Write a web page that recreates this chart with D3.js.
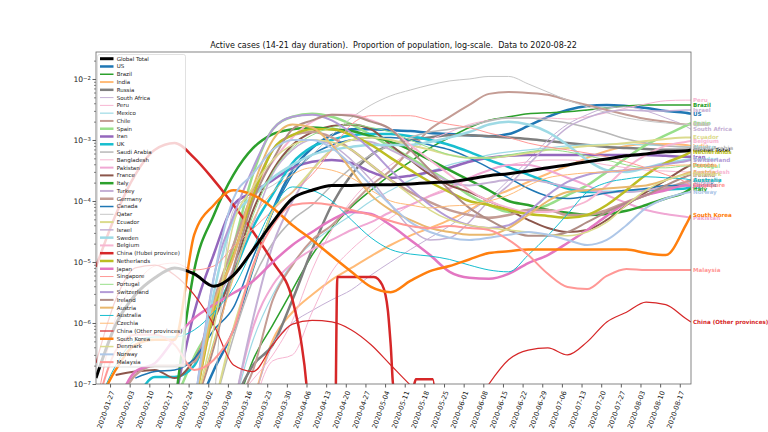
<!DOCTYPE html>
<html>
<head>
<meta charset="utf-8">
<script src="https://cdn.jsdelivr.net/npm/d3@7/dist/d3.min.js"></script>
<style>
  body { margin: 0; background: #fff; }
  svg text { font-family: "DejaVu Sans", sans-serif; }
</style>
</head>
<body>
<div id="chartContainer"></div>
<script>
// Weekly samples: share of population with an active case.
// Each series is right-aligned to `weeks` (its last value is 2020-08-21).
var weeks = ["2020-01-22","2020-01-29","2020-02-05","2020-02-12","2020-02-19","2020-02-26",
  "2020-03-04","2020-03-11","2020-03-18","2020-03-25","2020-04-01","2020-04-08","2020-04-15",
  "2020-04-22","2020-04-29","2020-05-06","2020-05-13","2020-05-20","2020-05-27","2020-06-03",
  "2020-06-10","2020-06-17","2020-06-24","2020-07-01","2020-07-08","2020-07-15","2020-07-22",
  "2020-07-29","2020-08-05","2020-08-12","2020-08-19","2020-08-21"];

var globalTotal = [1.25e-7,9.3e-7,2.9e-6,5.5e-6,8.0e-6,6.4e-6,4.0e-6,6.1e-6,1.6e-5,4.5e-5,1.1e-4,1.5e-4,1.8e-4,1.8e-4,1.85e-4,1.85e-4,1.9e-4,2.0e-4,2.05e-4,2.3e-4,2.6e-4,2.8e-4,3.1e-4,3.5e-4,3.9e-4,4.4e-4,4.9e-4,5.5e-4,5.9e-4,6.4e-4,6.6e-4,6.9e-4];
var us = [3e-8,1.7e-7,7.7e-7,8.0e-6,7.1e-5,3.2e-4,7.4e-4,1.2e-3,1.5e-3,1.5e-3,1.45e-3,1.4e-3,1.3e-3,1.25e-3,1.2e-3,1.15e-3,1.25e-3,1.7e-3,2.4e-3,3.1e-3,3.6e-3,3.75e-3,3.6e-3,3.35e-3,3.0e-3,2.8e-3,2.7e-3];
var brazil = [3e-8,2.5e-7,9.3e-7,3.5e-6,1.3e-5,3.6e-5,8.0e-5,1.5e-4,2.7e-4,4.4e-4,7.4e-4,1.1e-3,1.6e-3,2.1e-3,2.4e-3,2.7e-3,2.8e-3,2.9e-3,3.1e-3,3.35e-3,3.6e-3,3.75e-3,3.75e-3,3.75e-3,3.75e-3];
var india = [5e-8,5.3e-7,1.5e-6,2.9e-6,5.1e-6,8.0e-6,1.25e-5,1.9e-5,2.7e-5,3.6e-5,4.9e-5,7.1e-5,1.1e-4,1.5e-4,2.05e-4,2.8e-4,3.75e-4,5.1e-4,6.6e-4,8.0e-4,8.6e-4,8.6e-4,8.3e-4,8.0e-4];
var russia = [5e-8,2.05e-7,4.4e-7,2.4e-6,1.6e-5,8.6e-5,2.7e-4,5.7e-4,8.3e-4,1.0e-3,1.1e-3,1.2e-3,1.2e-3,1.15e-3,1.1e-3,1.04e-3,9.6e-4,8.9e-4,8.3e-4,7.7e-4,7.4e-4,7.1e-4,6.9e-4,6.9e-4,6.9e-4];
var southAfrica = [5e-8,4.4e-7,1.0e-6,1.6e-6,2.4e-6,3.5e-6,6.1e-6,1.0e-5,1.6e-5,2.5e-5,3.9e-5,6.6e-5,1.1e-4,2.2e-4,4.7e-4,1.0e-3,1.8e-3,2.6e-3,3.35e-3,3.5e-3,3.0e-3,2.3e-3,1.7e-3,1.5e-3];
var peru = [5e-8,1.2e-7,3.0e-7,1.1e-6,7.4e-6,3.35e-5,1.0e-4,2.2e-4,3.9e-4,6.4e-4,1.0e-3,1.35e-3,1.8e-3,2.1e-3,2.3e-3,2.3e-3,2.3e-3,2.2e-3,2.4e-3,2.8e-3,3.35e-3,3.9e-3,4.4e-3,4.5e-3,4.5e-3];
var mexico = [4e-8,5.3e-7,2.9e-6,9.6e-6,2.05e-5,3.6e-5,5.9e-5,1.0e-4,1.5e-4,2.2e-4,3.0e-4,3.9e-4,4.7e-4,5.7e-4,6.4e-4,6.9e-4,7.4e-4,8.0e-4,8.3e-4,8.6e-4,8.6e-4,8.3e-4,8.0e-4,7.7e-4,7.7e-4];
var chile = [4e-8,1.7e-7,2.4e-6,8.9e-6,2.3e-5,4.0e-5,8.6e-5,1.8e-4,3.2e-4,6.9e-4,1.5e-3,2.4e-3,3.75e-3,5.7e-3,6.1e-3,5.9e-3,5.5e-3,4.5e-3,3.75e-3,3.1e-3,2.6e-3,2.2e-3,2.0e-3,1.8e-3,1.8e-3];
var spain = [5e-8,2.8e-7,1.2e-6,1.8e-5,2.8e-4,1.5e-3,2.4e-3,2.7e-3,2.4e-3,1.8e-3,1.2e-3,7.7e-4,5.1e-4,3.2e-4,2.05e-4,1.25e-4,8.6e-5,6.6e-5,7.1e-5,8.6e-5,1.25e-4,1.8e-4,3.0e-4,5.1e-4,8.3e-4,1.2e-3,1.7e-3,1.9e-3];
var iran = [5e-8,1.5e-6,1.35e-5,8.6e-5,1.4e-4,2.2e-4,3.5e-4,4.4e-4,4.7e-4,4.2e-4,3.0e-4,2.4e-4,2.6e-4,3.0e-4,3.5e-4,4.4e-4,5.1e-4,5.5e-4,5.7e-4,5.7e-4,5.7e-4,5.7e-4,5.7e-4,5.7e-4,5.7e-4,5.5e-4,5.3e-4,5.3e-4];
var uk = [5e-8,1.3e-7,1.3e-7,2.0e-7,1.3e-6,6.6e-6,3.75e-5,1.3e-4,4.2e-4,7.7e-4,1.0e-3,1.2e-3,1.25e-3,1.25e-3,1.15e-3,1.0e-3,8.3e-4,6.4e-4,4.7e-4,3.6e-4,2.7e-4,2.05e-4,1.6e-4,1.4e-4,1.4e-4,1.45e-4,1.5e-4,1.55e-4,1.6e-4,1.7e-4];
var saudiArabia = [4e-8,5.9e-7,5.1e-6,2.05e-5,4.9e-5,8.6e-5,1.8e-4,3.5e-4,5.7e-4,8.3e-4,1.1e-3,1.35e-3,1.5e-3,1.7e-3,2.05e-3,2.3e-3,2.3e-3,2.1e-3,1.9e-3,1.6e-3,1.3e-3,1.04e-3,8.9e-4,8.0e-4,7.7e-4,7.4e-4];
var bangladesh = [4e-8,2.4e-7,3.0e-7,1.5e-6,6.9e-6,1.6e-5,3.0e-5,5.3e-5,8.6e-5,1.25e-4,1.7e-4,2.4e-4,3.2e-4,3.9e-4,4.4e-4,4.7e-4,4.7e-4,4.4e-4,3.9e-4,3.5e-4,3.2e-4,3.1e-4,3.0e-4,3.0e-4];
var pakistan = [4e-8,8.6e-7,4.2e-6,9.6e-6,1.6e-5,2.3e-5,3.35e-5,4.5e-5,6.6e-5,8.6e-5,1.2e-4,1.6e-4,2.4e-4,3.2e-4,3.9e-4,3.9e-4,3.2e-4,2.4e-4,1.8e-4,1.25e-4,9.3e-5,7.1e-5,6.1e-5,5.5e-5,5.3e-5];
var france = [1.4e-7,1.6e-7,1.7e-7,1.25e-7,2.5e-7,1.1e-6,7.4e-6,7.1e-5,3.2e-4,8.3e-4,1.35e-3,1.7e-3,1.8e-3,1.5e-3,8.3e-4,4.7e-4,2.7e-4,1.8e-4,1.4e-4,1.0e-4,7.1e-5,4.9e-5,3.6e-5,3.1e-5,3.35e-5,4.9e-5,8.6e-5,1.4e-4,2.2e-4,3.5e-4,3.9e-4];
var italy = [4e-8,7.4e-6,5.9e-5,2.7e-4,7.4e-4,1.25e-3,1.5e-3,1.6e-3,1.5e-3,1.4e-3,1.15e-3,9.3e-4,6.9e-4,4.7e-4,3.2e-4,2.2e-4,1.5e-4,1.0e-4,8.6e-5,7.1e-5,6.4e-5,5.9e-5,6.1e-5,6.9e-5,8.6e-5,1.1e-4,1.4e-4,1.6e-4];
var turkey = [4e-8,1.2e-6,1.9e-5,1.0e-4,3.2e-4,6.9e-4,1.0e-3,9.3e-4,6.9e-4,4.7e-4,3.0e-4,2.05e-4,1.8e-4,2.0e-4,2.2e-4,2.2e-4,2.0e-4,1.7e-4,1.5e-4,1.4e-4,1.4e-4,1.5e-4,1.7e-4,1.9e-4,2.0e-4];
var germany = [4e-8,1.4e-7,2.0e-7,2.0e-7,2.3e-7,2.4e-6,1.9e-5,1.4e-4,6.9e-4,1.2e-3,1.35e-3,1.1e-3,6.9e-4,3.9e-4,2.2e-4,1.4e-4,9.6e-5,7.1e-5,5.9e-5,5.3e-5,5.9e-5,7.1e-5,7.1e-5,5.9e-5,5.9e-5,7.1e-5,9.6e-5,1.25e-4,1.6e-4,2.05e-4,2.2e-4];
var canada = [1.25e-7,1.6e-7,1.7e-7,2.6e-7,7.7e-7,1.8e-6,1.2e-5,6.6e-5,2.7e-4,5.7e-4,8.3e-4,1.0e-3,1.1e-3,1.1e-3,1.0e-3,8.3e-4,6.9e-4,5.1e-4,3.5e-4,2.4e-4,1.6e-4,1.2e-4,1.1e-4,1.2e-4,1.35e-4,1.5e-4,1.6e-4,1.8e-4,1.8e-4,1.8e-4];
var qatar = [4e-8,7.1e-5,1.25e-4,1.8e-4,3.2e-4,5.7e-4,1.2e-3,2.3e-3,3.75e-3,5.3e-3,6.6e-3,8.0e-3,9.3e-3,1.0e-2,1.1e-2,1.1e-2,8.3e-3,6.1e-3,4.5e-3,3.5e-3,2.8e-3,2.3e-3,2.05e-3,1.9e-3,1.8e-3,1.8e-3];
var ecuador = [4e-8,8.3e-7,8.3e-6,6.9e-5,1.4e-4,3.2e-4,6.9e-4,1.0e-3,1.1e-3,1.0e-3,8.3e-4,6.9e-4,5.7e-4,5.1e-4,5.1e-4,5.5e-4,6.1e-4,6.9e-4,7.4e-4,8.0e-4,8.3e-4,8.9e-4,9.6e-4,1.04e-3,1.1e-3,1.1e-3];
var israel = [4e-8,1.5e-6,8.0e-6,4.4e-5,2.8e-4,6.9e-4,1.0e-3,8.3e-4,4.7e-4,2.2e-4,8.6e-5,3.6e-5,2.3e-5,2.5e-5,4.5e-5,1.0e-4,1.8e-4,3.9e-4,8.3e-4,1.6e-3,2.3e-3,2.9e-3,3.1e-3,3.0e-3,3.0e-3,3.1e-3,3.1e-3];
var sweden = [4e-8,3.1e-6,5.1e-5,1.2e-4,2.4e-4,3.9e-4,5.7e-4,6.9e-4,7.7e-4,8.3e-4,8.3e-4,8.3e-4,9.3e-4,1.1e-3,1.35e-3,1.8e-3,2.0e-3,1.8e-3,1.35e-3,8.3e-4,4.7e-4,3.2e-4,3.0e-4,3.5e-4,4.2e-4,4.7e-4,4.9e-4];
var belgium = [4e-8,1.5e-6,1.2e-5,1.3e-4,4.4e-4,1.1e-3,2.0e-3,2.6e-3,2.6e-3,2.1e-3,1.5e-3,8.3e-4,4.7e-4,2.7e-4,1.5e-4,1.0e-4,7.7e-5,6.6e-5,6.6e-5,7.7e-5,1.0e-4,1.8e-4,3.5e-4,5.7e-4,8.0e-4,9.3e-4,9.6e-4];
var netherlands = [4e-8,1.6e-6,1.3e-5,1.2e-4,6.9e-4,1.2e-3,1.5e-3,1.5e-3,1.2e-3,8.3e-4,5.1e-4,3.2e-4,2.05e-4,1.4e-4,1.0e-4,8.6e-5,7.1e-5,6.1e-5,5.7e-5,5.3e-5,5.9e-5,8.6e-5,1.5e-4,2.7e-4,4.2e-4,5.7e-4,6.4e-4];
var japan = [4e-8,1.6e-7,2.2e-7,5.5e-7,1.2e-6,2.0e-6,3.1e-6,4.9e-6,1.0e-5,1.9e-5,3.1e-5,4.9e-5,6.6e-5,6.1e-5,4.0e-5,2.3e-5,1.3e-5,6.9e-6,5.5e-6,5.3e-6,6.4e-6,9.6e-6,1.3e-5,2.05e-5,3.35e-5,5.7e-5,9.3e-5,1.25e-4,1.5e-4,1.8e-4,1.8e-4];
var singapore = [4e-8,1.2e-6,4.2e-6,8.6e-6,9.6e-6,7.4e-6,8.6e-6,1.8e-5,3.5e-5,7.1e-5,1.4e-4,2.7e-4,6.9e-4,1.8e-3,2.5e-3,2.5e-3,2.5e-3,2.1e-3,1.8e-3,1.6e-3,1.3e-3,1.1e-3,8.9e-4,7.7e-4,6.9e-4,6.1e-4,5.3e-4,4.4e-4,3.5e-4,2.7e-4,2.05e-4,1.8e-4];
var portugal = [4e-8,5.1e-7,5.9e-6,5.9e-5,3.0e-4,7.4e-4,1.2e-3,1.6e-3,1.8e-3,1.6e-3,1.35e-3,1.0e-3,7.4e-4,5.7e-4,5.1e-4,5.1e-4,5.7e-4,6.4e-4,6.9e-4,6.4e-4,5.5e-4,4.7e-4,3.9e-4,3.5e-4,3.5e-4,3.75e-4,3.75e-4];
var switzerland = [4e-8,5.7e-6,5.7e-5,3.5e-4,1.5e-3,2.4e-3,2.6e-3,2.1e-3,1.3e-3,6.9e-4,3.2e-4,1.6e-4,8.6e-5,5.3e-5,4.0e-5,3.6e-5,4.0e-5,6.6e-5,1.25e-4,2.05e-4,2.7e-4,3.0e-4,3.2e-4,3.5e-4,4.0e-4,4.5e-4,4.7e-4];
var ireland = [4e-8,4.0e-7,8.0e-6,1.0e-4,4.7e-4,1.5e-3,2.1e-3,2.6e-3,2.5e-3,2.0e-3,1.5e-3,6.9e-4,3.2e-4,1.5e-4,7.7e-5,4.9e-5,3.35e-5,2.7e-5,2.7e-5,3.1e-5,4.5e-5,6.6e-5,9.3e-5,1.25e-4,1.8e-4,2.5e-4,2.7e-4];
var austria = [4e-8,2.0e-6,1.2e-5,1.7e-4,1.0e-3,1.8e-3,1.6e-3,8.3e-4,3.2e-4,1.25e-4,7.1e-5,4.9e-5,3.6e-5,3.1e-5,2.8e-5,2.8e-5,3.6e-5,5.9e-5,1.0e-4,1.4e-4,1.5e-4,1.6e-4,1.7e-4,1.8e-4,2.2e-4,2.8e-4,3.0e-4];
var australia = [4e-8,2.0e-7,5.1e-7,5.9e-7,5.9e-7,7.7e-7,1.5e-6,3.75e-6,1.7e-5,7.7e-5,1.7e-4,1.5e-4,1.0e-4,4.9e-5,2.5e-5,1.6e-5,1.35e-5,1.25e-5,1.1e-5,8.9e-6,7.4e-6,6.9e-6,1.3e-5,2.7e-5,6.1e-5,1.4e-4,2.0e-4,2.3e-4,2.5e-4,2.4e-4,2.3e-4,2.2e-4];
var czechia = [4e-8,4.7e-7,5.5e-6,4.9e-5,1.4e-4,2.7e-4,3.5e-4,3.2e-4,2.4e-4,1.5e-4,1.0e-4,8.6e-5,7.7e-5,8.3e-5,8.6e-5,1.0e-4,1.25e-4,1.8e-4,2.4e-4,2.7e-4,2.9e-4,3.0e-4,3.2e-4,3.5e-4,3.75e-4,3.9e-4,3.9e-4];
var chinaOther = [2.2e-7,2.4e-6,8.0e-6,8.9e-6,6.1e-6,2.9e-6,9.3e-7,2.05e-7,1.6e-7,4.4e-7,9.6e-7,1.1e-6,1.04e-6,7.7e-7,4.4e-7,2.05e-7,9.6e-8,5e-8,3e-8,3e-8,1.0e-7,2.5e-7,3.6e-7,3.9e-7,3.0e-7,4.9e-7,1.04e-6,1.5e-6,2.2e-6,2.0e-6,1.2e-6,1.04e-6];
var southKorea = [4e-8,1.7e-7,4.4e-7,5.3e-7,5.3e-7,2.8e-5,8.6e-5,1.5e-4,1.25e-4,7.7e-5,4.0e-5,2.3e-5,1.25e-5,6.9e-6,3.9e-6,3.2e-6,4.9e-6,7.1e-6,8.6e-6,1.1e-5,1.4e-5,1.5e-5,1.6e-5,1.6e-5,1.6e-5,1.6e-5,1.6e-5,1.6e-5,1.4e-5,1.3e-5,3.9e-5,5.9e-5];
var denmark = [4e-8,8.3e-7,4.2e-5,1.7e-4,4.7e-4,8.3e-4,1.0e-3,9.3e-4,6.9e-4,3.9e-4,2.2e-4,1.25e-4,7.1e-5,4.9e-5,4.0e-5,3.6e-5,3.35e-5,3.1e-5,2.8e-5,2.7e-5,3.1e-5,4.5e-5,8.6e-5,1.5e-4,2.2e-4,2.7e-4,2.8e-4];
var norway = [4e-8,5.5e-6,1.1e-4,2.8e-4,6.9e-4,1.0e-3,1.0e-3,7.4e-4,3.9e-4,1.8e-4,8.6e-5,4.5e-5,3.1e-5,2.5e-5,2.3e-5,2.5e-5,2.8e-5,3.1e-5,2.8e-5,2.3e-5,1.9e-5,2.3e-5,4.0e-5,7.7e-5,1.1e-4,1.35e-4,1.4e-4];
var malaysia = [4e-8,3.5e-7,6.4e-7,6.4e-7,4.4e-7,1.7e-7,2.5e-7,7.7e-7,8.9e-6,4.0e-5,8.6e-5,9.3e-5,8.6e-5,7.1e-5,5.9e-5,4.7e-5,3.9e-5,3.6e-5,3.9e-5,3.6e-5,3.35e-5,2.3e-5,1.3e-5,6.4e-6,3.9e-6,3.6e-6,5.9e-6,7.7e-6,7.4e-6,7.4e-6,7.4e-6,7.4e-6];

// Hubei has sharp steps, so it keeps its own dates
var hubeiDates = ["2020-01-22","2020-01-29","2020-02-05","2020-02-12","2020-02-19","2020-02-26",
  "2020-03-04","2020-03-11","2020-03-18","2020-03-25","2020-04-01","2020-04-04","2020-04-06",
  "2020-04-08","2020-04-16","2020-04-17","2020-04-30","2020-05-03","2020-05-05","2020-05-06",
  "2020-05-07","2020-05-14","2020-05-15","2020-05-21","2020-05-23"];
var hubeiValues = [8.3e-6,5.9e-5,2.7e-4,6.9e-4,8.9e-4,5.1e-4,2.2e-4,8.6e-5,3.1e-5,1.0e-5,2.4e-6,5.3e-7,9.6e-8,
  3e-9,3e-9,5.7e-6,5.7e-6,4.2e-6,1.6e-6,4.4e-7,9e-8,9e-8,1.2e-7,1.2e-7,3e-9];

var countries = ["Global Total","US","Brazil","India","Russia","South Africa","Peru","Mexico","Chile",
  "Spain","Iran","UK","Saudi Arabia","Bangladesh","Pakistan","France","Italy","Turkey","Germany",
  "Canada","Qatar","Ecuador","Israel","Sweden","Belgium","China (Hubei province)","Netherlands",
  "Japan","Singapore","Portugal","Switzerland","Ireland","Austria","Australia","Czechia",
  "China (Other provinces)","South Korea","Denmark","Norway","Malaysia"];
var seriesValues = [globalTotal, us, brazil, india, russia, southAfrica, peru, mexico, chile,
  spain, iran, uk, saudiArabia, bangladesh, pakistan, france, italy, turkey, germany,
  canada, qatar, ecuador, israel, sweden, belgium, hubeiValues, netherlands,
  japan, singapore, portugal, switzerland, ireland, austria, australia, czechia,
  chinaOther, southKorea, denmark, norway, malaysia];

var tickLabels = ["2020-01-27","2020-02-03","2020-02-10","2020-02-17","2020-02-24","2020-03-02",
  "2020-03-09","2020-03-16","2020-03-23","2020-03-30","2020-04-06","2020-04-13","2020-04-20",
  "2020-04-27","2020-05-04","2020-05-11","2020-05-18","2020-05-25","2020-06-01","2020-06-08",
  "2020-06-15","2020-06-22","2020-06-29","2020-07-06","2020-07-13","2020-07-20","2020-07-27",
  "2020-08-03","2020-08-10","2020-08-17"];
var yDecades = [1e-7, 1e-6, 1e-5, 1e-4, 1e-3, 1e-2];

// styles, in the same order as countries
var lineColors = ["#000000","#1f77b4","#2ca02c","#ffbb78","#7f7f7f","#c5b0d5","#f7b6d2","#9edae5","#c49c94",
  "#98df8a","#9467bd","#17becf","#b8b8b8","#f7b6d2","#f0a8d4","#8c564b","#2ca02c","#c5b0d5","#c49c94",
  "#1f77b4","#c7c7c7","#dbdb8d","#c5b0d5","#9edae5","#f7b6d2","#d62728","#bcbd22",
  "#e377c2","#ff9896","#98df8a","#b39bd6","#b08d85","#e9b86e","#17becf","#ffbb78",
  "#d62728","#ff7f0e","#dbdb8d","#aec7e8","#ff9896"];
var lineWidths = [3,2.5,1.5,2,2.5,1,1,1.2,2,2.5,2.5,2.5,1.5,1,2,2,2.5,2,2.5,1.5,1,2,1.5,2.5,2,2.5,2.5,
  2.5,1,1,2,2,2,1,1,1.2,2.5,1.5,2,2];

var parse = d3.timeParse("%Y-%m-%d");
var W = 768, H = 432;
var plotLeft = 96, plotRight = 691, plotTop = 52, plotBottom = 384;

var svg = d3.select("#chartContainer").append("svg")
  .attr("width", W).attr("height", H);

var x = d3.scaleTime()
  .domain([parse("2020-01-22"), parse("2020-08-21")])
  .range([plotLeft, plotRight]);
var y = d3.scaleLog()
  .domain([1e-7, 2.77e-2])
  .range([plotBottom, plotTop]);

svg.append("clipPath").attr("id", "plotClip")
  .append("rect")
  .attr("x", plotLeft).attr("y", plotTop)
  .attr("width", plotRight - plotLeft).attr("height", plotBottom - plotTop);

// build the point lists
var pointsByCountry = seriesValues.map(function (vals, i) {
  if (i === 25) {
    return hubeiValues.map(function (v, j) { return { date: parse(hubeiDates[j]), value: v }; });
  }
  var off = weeks.length - vals.length;
  return vals.map(function (v, j) { return { date: parse(weeks[off + j]), value: v }; });
});

var line = d3.line()
  .defined(function (d) { return d.value != null; })
  .x(function (d) { return x(d.date); })
  .y(function (d) { return y(d.value); })
  .curve(d3.curveMonotoneX);

var plot = svg.append("g").attr("clip-path", "url(#plotClip)");

// draw countries, global total last so it stays on top
var drawOrder = d3.range(1, countries.length).concat([0]);
drawOrder.forEach(function (i) {
  plot.append("path")
    .datum(pointsByCountry[i])
    .attr("fill", "none")
    .attr("stroke", lineColors[i])
    .attr("stroke-width", lineWidths[i])
    .attr("stroke-linejoin", "round")
    .attr("d", line);
});

// labels at the right end
var lastDay = parse("2020-08-21");
countries.forEach(function (name, i) {
  var pts = pointsByCountry[i];
  var last = pts[pts.length - 1];
  if (last.date < lastDay || last.value < 1e-7) return;
  svg.append("text")
    .attr("x", plotRight + 2)
    .attr("y", y(last.value))
    .attr("dy", "0.35em")
    .style("font-size", "5.6px")
    .style("font-weight", "bold")
    .style("fill", lineColors[i])
    .text(name);
});

// y axis: decades with superscript labels, plus minor ticks
var minors = [];
yDecades.forEach(function (d) {
  for (var k = 2; k <= 9; k++) {
    if (d * k <= 2.77e-2) minors.push(d * k);
  }
});
var yMinor = svg.append("g").attr("transform", "translate(" + plotLeft + ",0)")
  .call(d3.axisLeft(y).tickValues(minors).tickSize(2).tickFormat(""));
yMinor.select(".domain").remove();
yMinor.selectAll("line").attr("stroke", "#333").attr("stroke-width", 0.6);

var yMajor = svg.append("g").attr("transform", "translate(" + plotLeft + ",0)")
  .call(d3.axisLeft(y).tickValues(yDecades).tickSize(3.5).tickFormat(""));
yMajor.select(".domain").remove();
yMajor.selectAll("line").attr("stroke", "#333").attr("stroke-width", 0.8);
yMajor.selectAll(".tick").each(function (d) {
  var t = d3.select(this).append("text")
    .attr("x", -5).attr("dy", "0.35em")
    .attr("text-anchor", "end")
    .style("fill", "#222")
    .style("font-size", "7.6px");
  t.append("tspan").text("10");
  t.append("tspan")
    .attr("dy", "-0.45em")
    .style("font-size", "5.4px")
    .text("\u2212" + Math.round(-Math.log10(d)));
});

// x axis: weekly dates, rotated
var xAxis = svg.append("g").attr("transform", "translate(0," + plotBottom + ")")
  .call(d3.axisBottom(x)
    .tickValues(tickLabels.map(parse))
    .tickSize(3.5)
    .tickFormat(d3.timeFormat("%Y-%m-%d")));
xAxis.select(".domain").remove();
xAxis.selectAll("line").attr("stroke", "#333").attr("stroke-width", 0.8);
xAxis.selectAll("text")
  .attr("x", 0).attr("y", 0).attr("dy", "0.35em")
  .attr("text-anchor", "end")
  .attr("transform", "translate(2,7) rotate(-70)")
  .style("fill", "#222")
  .style("font-size", "6.8px")
  .style("font-family", "DejaVu Sans");

// frame
svg.append("rect")
  .attr("x", plotLeft).attr("y", plotTop)
  .attr("width", plotRight - plotLeft).attr("height", plotBottom - plotTop)
  .attr("fill", "none").attr("stroke", "#666").attr("stroke-width", 0.8);

// legend
var lgTop = 58.7, lgStep = 7.78;
svg.append("rect")
  .attr("x", 97.5).attr("y", 54.5)
  .attr("width", 88).attr("height", 312.5)
  .attr("rx", 2)
  .attr("fill", "white").attr("fill-opacity", 0.8)
  .attr("stroke", "#cccccc").attr("stroke-width", 0.6);
var legend = svg.append("g");
countries.forEach(function (name, i) {
  var ly = lgTop + i * lgStep;
  legend.append("line")
    .attr("x1", 100).attr("x2", 113.5)
    .attr("y1", ly).attr("y2", ly)
    .attr("stroke", lineColors[i])
    .attr("stroke-width", lineWidths[i]);
  legend.append("text")
    .attr("x", 116.7).attr("y", ly).attr("dy", "0.35em")
    .style("font-size", "5.5px")
    .style("fill", "#222")
    .text(name);
});

// title
svg.append("text")
  .attr("x", (plotLeft + plotRight) / 2)
  .attr("y", 48)
  .attr("text-anchor", "middle")
  .style("font-size", "8px")
  .style("white-space", "pre")
  .style("fill", "#111")
  .text("Active cases (14-21 day duration).  Proportion of population, log-scale.  Data to 2020-08-22");
</script>
</body>
</html>
